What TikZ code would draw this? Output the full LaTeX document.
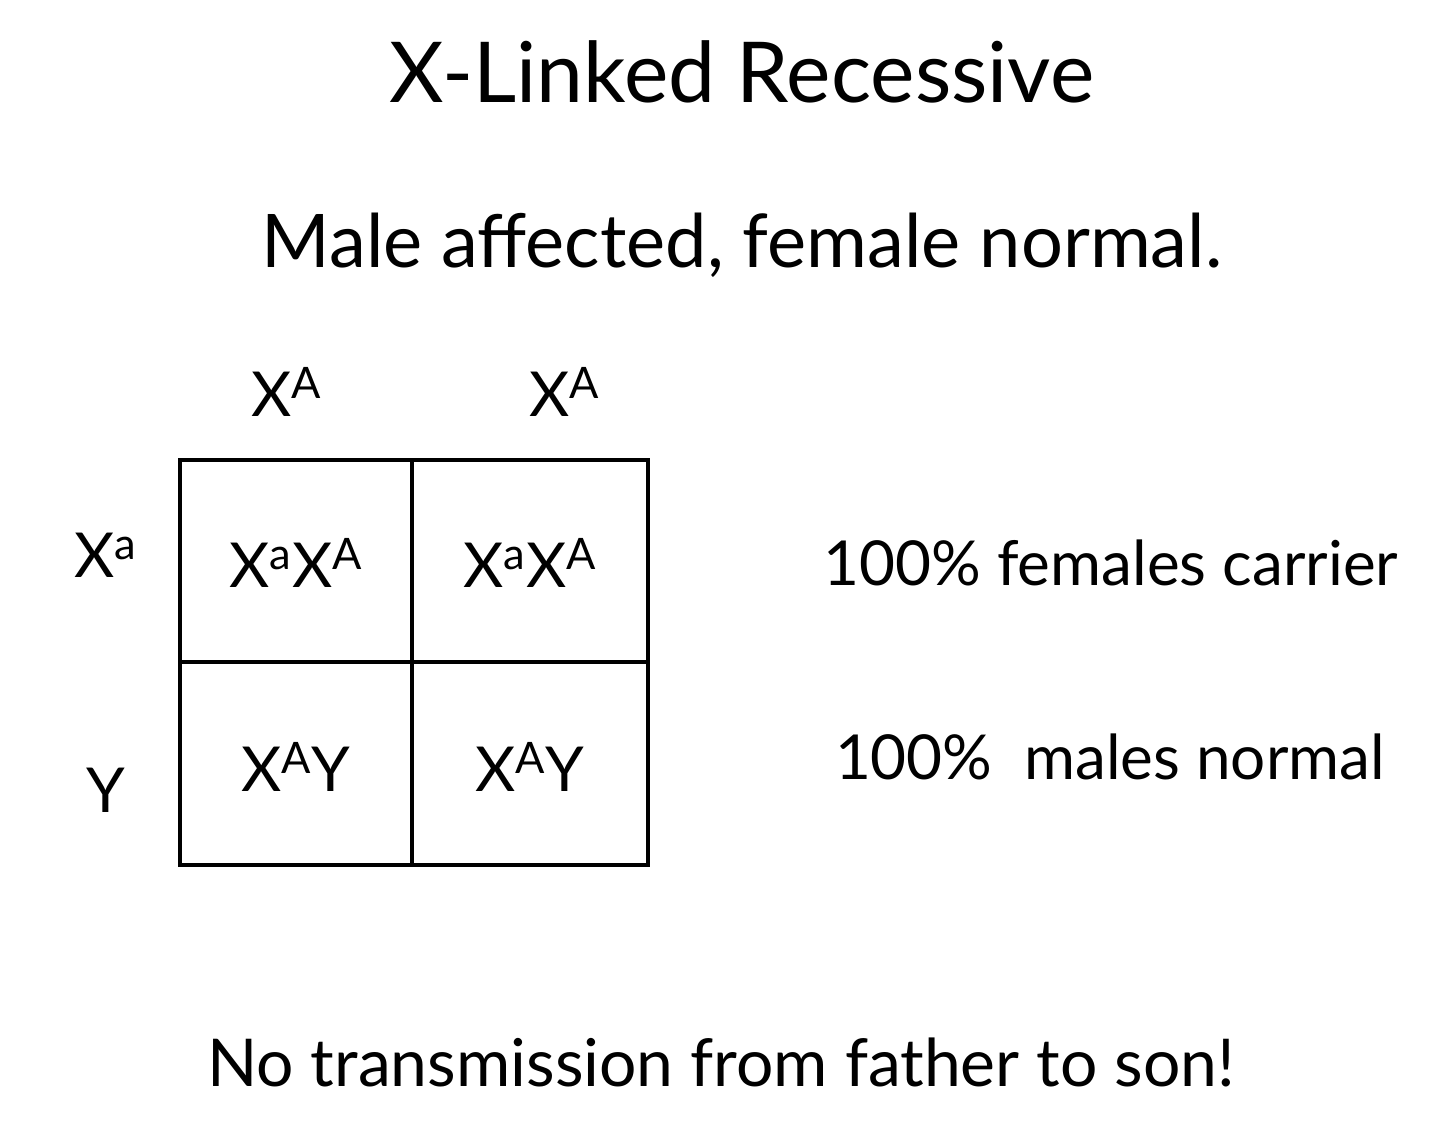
\documentclass[tikz,border=0pt]{standalone}
\usepackage{fontspec}
\setmainfont{Lato}
\begin{document}
\begin{tikzpicture}[x=0.5pt,y=-0.5pt]
\useasboundingbox (0,0) rectangle (1440,1128);
\tikzset{txt/.style={inner sep=0pt,anchor=center},
cell/.style={txt,font=\fontsize{31}{36}\selectfont},
lab/.style={txt,font=\fontsize{31}{36}\selectfont},
side/.style={txt,font=\fontsize{31}{36}\selectfont}}
\node[txt,font=\fontsize{42}{48}\selectfont] (title) at (742,72) {X-Linked Recessive};
\node[txt,font=\fontsize{37}{44}\selectfont] (sub) at (742,245) {Male affected, female normal.};
\node[txt,font=\fontsize{33}{40}\selectfont] (bottom) at (721,1062) {No transmission from father to son!};
\draw[line width=2pt] (180,460) rectangle (648,865);
\draw[line width=2pt] (412,460) -- (412,865);
\draw[line width=2pt] (180,662) -- (648,662);
\node[lab] (c1) at (287,392) {X\textsuperscript{A}};
\node[lab] (c2) at (565,392) {X\textsuperscript{A}};
\node[lab] (r1) at (106,555) {X\textsuperscript{a}};
\node[lab] (r2) at (106,790) {Y};
\node[cell] (a11) at (296,563) {X\textsuperscript{a}X\textsuperscript{A}};
\node[cell] (a12) at (530,563) {X\textsuperscript{a}X\textsuperscript{A}};
\node[cell] (a21) at (296,767) {X\textsuperscript{A}Y};
\node[cell] (a22) at (530,767) {X\textsuperscript{A}Y};
\node[side] (s1) at (1111,563) {100\% females carrier};
\node[side] (s2) at (1110,757) {100\%\ \ males normal};
\end{tikzpicture}
\end{document}
